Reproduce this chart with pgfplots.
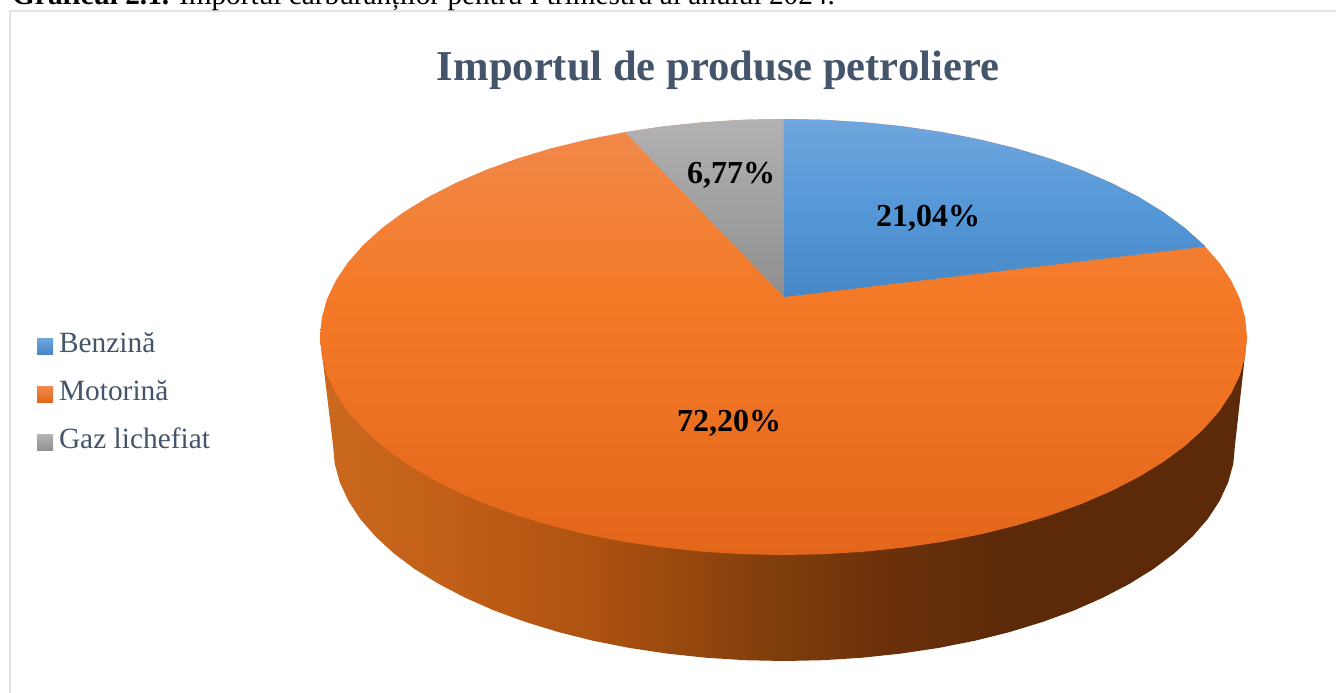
\documentclass[border=0pt]{standalone}
\usepackage{fontspec}
\setmainfont{Liberation Serif}
\usepackage{pgfplots}
\pgfplotsset{compat=1.18}

\definecolor{titlu}{HTML}{44546A}
\definecolor{chenar}{HTML}{E0E4EC}
\definecolor{lat0}{HTML}{CB681F}
\definecolor{lat1}{HTML}{C25F18}
\definecolor{lat2}{HTML}{AD5210}
\definecolor{lat3}{HTML}{7E3C0C}
\definecolor{lat4}{HTML}{6A300A}
\definecolor{lat5}{HTML}{5C2A09}
\definecolor{por0}{HTML}{F0894C}
\definecolor{por1}{HTML}{F47A28}
\definecolor{por2}{HTML}{E3661A}
\definecolor{albA}{HTML}{70A6DD}
\definecolor{albM}{HTML}{5598D8}
\definecolor{albB}{HTML}{4787C6}
\definecolor{griA}{HTML}{B2B2B2}
\definecolor{griB}{HTML}{8F8F8F}

% side wall, x from 320 to 1247 mapped on 25bp..75bp
\pgfdeclarehorizontalshading{lateral}{100bp}{
  color(0bp)=(lat0);
  color(25.5bp)=(lat0);
  color(32bp)=(lat1);
  color(40bp)=(lat2);
  color(50bp)=(lat3);
  color(56bp)=(lat4);
  color(62bp)=(lat5);
  color(100bp)=(lat5)}
% top of the big slice
\pgfdeclareverticalshading{portocaliu}{100bp}{
  color(0bp)=(por2);
  color(25bp)=(por2);
  color(55bp)=(por1);
  color(75bp)=(por0);
  color(100bp)=(por0)}

\newcommand{\patrat}[2]{\path[draw=none, top color=#1, bottom color=#2] (0pt,-8pt) rectangle (16pt,8pt);}

\begin{document}
\begin{tikzpicture}
\useasboundingbox (0,0) rectangle (1336pt,693pt);
\begin{axis}[
  at={(0,0)}, anchor=south west,
  scale only axis, width=1336pt, height=693pt,
  xmin=0, xmax=1336, ymin=0, ymax=693,
  y dir=reverse,
  hide axis, clip=false,
  legend cell align=left,
  legend style={
    at={(axis cs:37,344)}, anchor=north west, yshift=12pt,
    draw=none, fill=none, inner sep=0pt, outer sep=0pt,
    font=\fontsize{29.4}{30}\selectfont\color{titlu},
    row sep=20.4pt,
    nodes={inner sep=0pt, outer sep=0pt, text height=20pt, text depth=8pt},
    /tikz/every odd column/.append style={column sep=6pt},
  },
]
% chenar
\addplot[forget plot, chenar, line width=2pt] coordinates {(9.5,693) (9.5,11) (1336,11)};

% peretele lateral
\addplot[forget plot, draw=none, shade, shading=lateral] coordinates {
  (320,337) (333.0,445.0) (334.7,463.8) (339.9,482.5) (348.4,500.9) (360.2,518.9)
  (375.3,536.3) (393.4,553.0) (414.5,568.9) (438.5,583.8) (465.1,597.7) (494.1,610.5)
  (525.3,621.9) (558.5,632.1) (593.4,640.8) (629.8,648.0) (667.3,653.6) (705.7,657.7)
  (744.7,660.2) (784.0,661.0) (823.3,660.2) (862.3,657.7) (900.7,653.6) (938.2,648.0)
  (974.6,640.8) (1009.5,632.1) (1042.7,621.9) (1073.9,610.5) (1102.9,597.7) (1129.5,583.8)
  (1153.5,568.9) (1174.6,553.0) (1192.7,536.3) (1207.8,518.9) (1219.6,500.9) (1228.1,482.5)
  (1233.3,463.8) (1235.0,445.0) (1247,337)};

% Motorina 72,20 - whole top ellipse, the other two slices go over it
\addplot[forget plot, draw=none, shade, shading=portocaliu] coordinates {
  (1247.0,337.0) (1245.2,318.0) (1240.0,299.1) (1231.2,280.6) (1219.0,262.4) (1203.6,244.9)
  (1184.9,228.0) (1163.2,212.0) (1138.5,196.9) (1111.2,182.9) (1081.4,170.0) (1049.4,158.4)
  (1015.3,148.2) (979.4,139.4) (942.0,132.1) (903.5,126.4) (864.0,122.3) (823.9,119.8)
  (783.5,119.0) (743.1,119.8) (703.0,122.3) (663.5,126.4) (625.0,132.1) (587.6,139.4)
  (551.7,148.2) (517.6,158.4) (485.6,170.0) (455.8,182.9) (428.5,196.9) (403.8,212.0)
  (382.1,228.0) (363.4,244.9) (348.0,262.4) (335.8,280.6) (327.0,299.1) (321.8,318.0)
  (320.0,337.0) (321.8,356.0) (327.0,374.9) (335.8,393.4) (348.0,411.6) (363.4,429.1)
  (382.1,446.0) (403.8,462.0) (428.5,477.1) (455.8,491.1) (485.6,504.0) (517.6,515.6)
  (551.7,525.8) (587.6,534.6) (625.0,541.9) (663.5,547.6) (703.0,551.7) (743.1,554.2)
  (783.5,555.0) (823.9,554.2) (864.0,551.7) (903.5,547.6) (942.0,541.9) (979.4,534.6)
  (1015.3,525.8) (1049.4,515.6) (1081.4,504.0) (1111.2,491.1) (1138.5,477.1) (1163.2,462.0)
  (1184.9,446.0) (1203.6,429.1) (1219.0,411.6) (1231.2,393.4) (1240.0,374.9) (1245.2,356.0)};

% Benzina 21,04
\addplot[forget plot, draw=none, top color=albA, bottom color=albB, middle color=albM] coordinates {
  (784,297) (783.5,119.0) (823.9,119.8) (864.0,122.3) (903.5,126.4) (942.0,132.1) (979.4,139.4)
  (1015.3,148.2) (1049.4,158.4) (1081.4,170.0) (1111.2,182.9) (1138.5,196.9) (1163.2,212.0)
  (1184.9,228.0) (1205.5,246.5)};

% Gaz lichefiat 6,77
\addplot[forget plot, draw=none, top color=griA, bottom color=griB] coordinates {
  (784,297) (625.0,132.1) (663.5,126.4) (703.0,122.3) (743.1,119.8) (783.5,119.0)};

\addlegendimage{legend image code/.code={\patrat{albA}{albB}}}
\addlegendentry{Benzină}
\addlegendimage{legend image code/.code={\patrat{por0}{por2}}}
\addlegendentry{Motorină}
\addlegendimage{legend image code/.code={\patrat{griA}{griB}}}
\addlegendentry{Gaz lichefiat}

\node[anchor=base west, inner sep=0pt, font=\fontsize{29.3}{32}\selectfont] at (axis cs:12,5)
  {\textbf{Graficul 2.1.} Importul carburanților pentru I trimestru al anului 2024.};
\node[anchor=base, inner sep=0pt, text=titlu, font=\fontsize{42.6}{50}\selectfont\bfseries] at (axis cs:718,81)
  {Importul de produse petroliere};
\node[anchor=base, inner sep=0pt, font=\fontsize{32}{36}\selectfont\bfseries] at (axis cs:729,431) {72,20\%};
\node[anchor=base, inner sep=0pt, font=\fontsize{32}{36}\selectfont\bfseries] at (axis cs:928,226) {21,04\%};
\node[anchor=base, inner sep=0pt, font=\fontsize{32}{36}\selectfont\bfseries] at (axis cs:731,183) {6,77\%};
\end{axis}
\end{tikzpicture}
\end{document}
